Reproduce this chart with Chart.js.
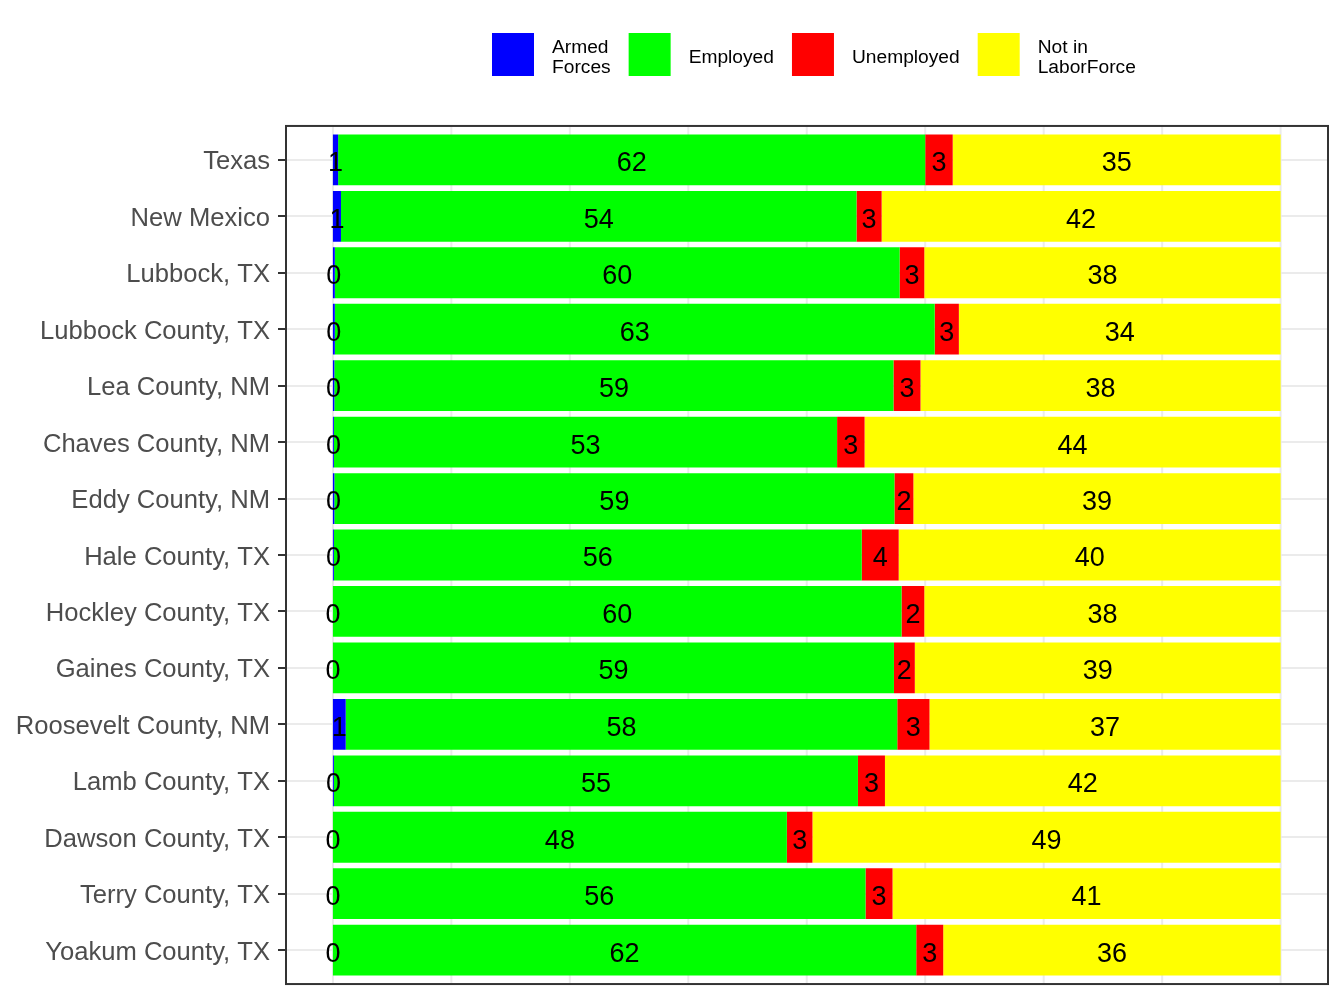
<!DOCTYPE html>
<html>
<head>
<meta charset="utf-8">
<script src="https://cdn.jsdelivr.net/npm/chart.js@4.4.1/dist/chart.umd.min.js"></script>
<style>
  html, body { margin: 0; padding: 0; background: #fff; }
  #wrap { width: 1344px; height: 1008px; }
</style>
</head>
<body>
<div id="wrap"><canvas id="chart" width="1344" height="1008"></canvas></div>
<script>
// places, top to bottom
const places = [
  'Texas', 'New Mexico', 'Lubbock, TX', 'Lubbock County, TX', 'Lea County, NM',
  'Chaves County, NM', 'Eddy County, NM', 'Hale County, TX', 'Hockley County, TX',
  'Gaines County, TX', 'Roosevelt County, NM', 'Lamb County, TX', 'Dawson County, TX',
  'Terry County, TX', 'Yoakum County, TX'
];

// percent of population 16+
const armedForces     = [0.55, 0.85, 0.2, 0.2, 0.15, 0.1, 0.15, 0.1, 0, 0, 1.35, 0.1, 0, 0, 0];
const employed        = [61.95, 54.4, 59.6, 63.3, 59.0, 53.1, 59.1, 55.7, 60.0, 59.2, 58.2, 55.3, 47.9, 56.2, 61.55];
const unemployed      = [2.9, 2.65, 2.6, 2.55, 2.85, 2.9, 2.0, 3.9, 2.4, 2.2, 3.4, 2.85, 2.7, 2.85, 2.85];
const notInLaborForce = [34.6, 42.1, 37.6, 33.95, 38.0, 43.9, 38.75, 40.3, 37.6, 38.6, 37.05, 41.75, 49.4, 40.95, 35.6];

const seriesNames  = ['Armed\nForces', 'Employed', 'Unemployed', 'Not in\nLaborForce'];
const seriesColors = ['#0000ff', '#00ff00', '#ff0000', '#ffff00'];
const gridSteps    = [0, 12.5, 25, 37.5, 50, 62.5, 75, 87.5, 100];

const FONT = '"Liberation Sans", Arial, sans-serif';

// ggplot pads the discrete axis by 0.6 of a band, chart.js by 0.5
function panelFrame(chart) {
  const a = chart.chartArea;
  const band = (a.bottom - a.top) / places.length;
  return { left: a.left, right: a.right, top: a.top - 0.1 * band, bottom: a.bottom + 0.1 * band };
}

const panelPlugin = {
  id: 'panel',
  beforeDatasetsDraw(chart) {
    const ctx = chart.ctx;
    const f = panelFrame(chart);
    ctx.save();
    ctx.strokeStyle = '#ebebeb';
    ctx.lineWidth = 2;
    gridSteps.forEach(v => {
      const px = chart.scales.x.getPixelForValue(v);
      ctx.beginPath();
      ctx.moveTo(px, f.top);
      ctx.lineTo(px, f.bottom);
      ctx.stroke();
    });
    ctx.restore();
  },
  afterDatasetsDraw(chart) {
    const ctx = chart.ctx;
    ctx.save();
    // value labels in the middle of each segment
    ctx.font = '27px ' + FONT;
    ctx.fillStyle = '#000';
    ctx.textAlign = 'center';
    ctx.textBaseline = 'middle';
    chart.data.datasets.forEach((ds, i) => {
      chart.getDatasetMeta(i).data.forEach((bar, j) => {
        ctx.fillText(String(Math.round(ds.data[j])), (bar.x + bar.base) / 2, bar.y + 4);
      });
    });
    // panel border
    const f = panelFrame(chart);
    ctx.strokeStyle = '#333333';
    ctx.lineWidth = 2;
    ctx.strokeRect(f.left, f.top, f.right - f.left, f.bottom - f.top);
    ctx.restore();
  },
  afterDraw(chart) {
    // legend on top, keys with 1 or 2 line labels
    const ctx = chart.ctx;
    ctx.save();
    ctx.font = '19.2px ' + FONT;
    ctx.textBaseline = 'middle';
    ctx.textAlign = 'left';
    let x = 492;
    const top = 33, h = 43, mid = 58;
    chart.data.datasets.forEach(ds => {
      ctx.fillStyle = ds.backgroundColor;
      ctx.fillRect(x, top, 42, h);
      x += 60;
      const lines = ds.label.split('\n');
      ctx.fillStyle = '#000';
      let w = 0;
      lines.forEach((ln, k) => {
        const y = lines.length === 1 ? mid : mid - 10 + k * 20;
        ctx.fillText(ln, x, y);
        w = Math.max(w, ctx.measureText(ln).width);
      });
      x += w + 18;
    });
    ctx.restore();
  }
};

const seriesData = [armedForces, employed, unemployed, notInLaborForce];

new Chart(document.getElementById('chart'), {
  type: 'bar',
  data: {
    labels: places,
    datasets: seriesData.map((d, i) => ({
      label: seriesNames[i],
      data: d,
      backgroundColor: seriesColors[i],
      borderWidth: 0,
      categoryPercentage: 0.9,
      barPercentage: 1.0
    }))
  },
  options: {
    indexAxis: 'y',
    responsive: false,
    devicePixelRatio: 1,
    animation: false,
    events: [],
    layout: { padding: { top: 131.6, right: 16, bottom: 29.6, left: 0 } },
    plugins: {
      legend: { display: false },
      tooltip: { enabled: false }
    },
    scales: {
      x: {
        display: false,
        stacked: true,
        min: -4.95,
        max: 105
      },
      y: {
        stacked: true,
        afterFit(scale) { scale.width = 286; },
        border: { display: false },
        grid: {
          offset: false,
          color: '#ebebeb',
          lineWidth: 2,
          drawTicks: true,
          tickLength: 8,
          tickColor: '#333333',
          tickWidth: 2
        },
        ticks: {
          autoSkip: false,
          padding: 8,
          labelOffset: 2.5,
          color: '#4d4d4d',
          font: { family: FONT, size: 25.6 }
        }
      }
    }
  },
  plugins: [panelPlugin]
});
</script>
</body>
</html>
